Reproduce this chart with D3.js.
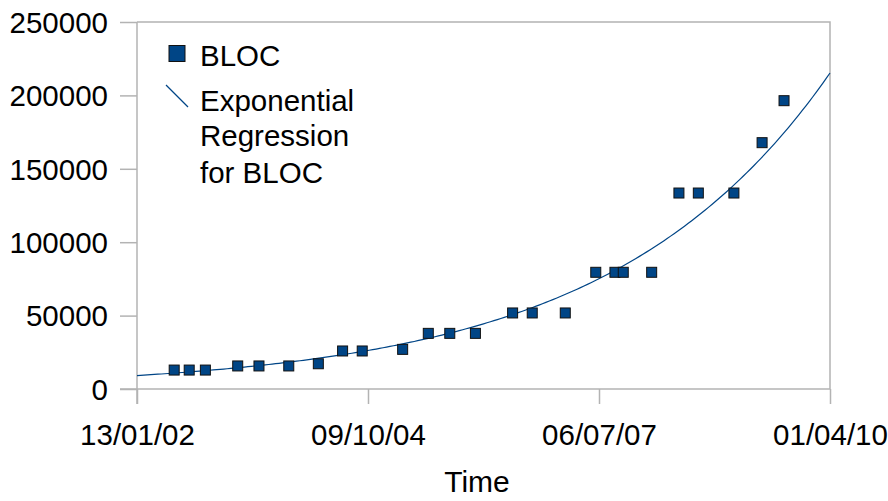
<!DOCTYPE html>
<html>
<head>
<meta charset="utf-8">
<script src="https://cdn.jsdelivr.net/npm/d3@7"></script>
<style>
  html, body { margin: 0; padding: 0; background: #fff; }
  svg { display: block; font-family: "Liberation Sans", Arial, sans-serif; }
</style>
</head>
<body>
<svg id="chart" width="888" height="501"></svg>
<script>
// BLOC measurements over time
const dates = [
  "2002-06-23", "2002-08-27", "2002-11-05", "2003-03-25", "2003-06-25",
  "2003-11-01", "2004-03-08", "2004-06-21", "2004-09-14", "2005-03-08",
  "2005-06-27", "2005-09-28", "2006-01-17", "2006-06-27", "2006-09-20",
  "2007-02-10", "2007-06-22", "2007-09-13", "2007-10-19", "2008-02-19",
  "2008-06-16", "2008-09-08", "2009-02-09", "2009-06-11", "2009-09-14"
];
const bloc = [
  12900, 12900, 12900, 15700, 15700,
  15700, 17200, 25900, 25900, 27000,
  37900, 37900, 37900, 51800, 51800,
  51800, 79500, 79500, 79500, 79500,
  133500, 133500, 133500, 167800, 196400
];
const yTicks = [0, 50000, 100000, 150000, 200000, 250000];
const xTicks = ["2002-01-13", "2004-10-09", "2007-07-06", "2010-04-01"];
const seriesName = "BLOC";
const fitName = ["Exponential", "Regression", "for BLOC"];
const axisTitle = "Time";

const parse = d3.utcParse("%Y-%m-%d");
const fmt = d3.utcFormat("%d/%m/%y");
const points = dates.map((d, i) => ({ t: parse(d), v: bloc[i] }));
const tickDates = xTicks.map(parse);

const blue = "#004586";
const grey = "#b3b3b3";
const fontSize = 29.5;
const fontFamily = "\"Liberation Sans\", Arial, sans-serif";

const plotLeft = 137, plotRight = 830, plotTop = 22, plotBottom = 389;

const svg = d3.select("#chart");

const x = d3.scaleUtc()
  .domain([tickDates[0], tickDates[tickDates.length - 1]])
  .range([plotLeft, plotRight]);
const y = d3.scaleLinear()
  .domain([0, 250000])
  .range([plotBottom, plotTop]);

// plot frame (top and right edges)
svg.append("path")
  .attr("d", `M${plotLeft},${plotTop}H${plotRight}V${plotBottom}`)
  .attr("fill", "none")
  .attr("stroke", grey)
  .attr("stroke-width", 1.5);

// y axis
const yAxis = svg.append("g")
  .attr("transform", `translate(${plotLeft},0)`)
  .call(d3.axisLeft(y).tickValues(yTicks).tickSize(17).tickSizeOuter(0)
    .tickFormat(d3.format("d")).tickPadding(12));
yAxis.select(".domain").remove();
yAxis.selectAll(".tick line").attr("stroke", grey).attr("stroke-width", 1.5);
yAxis.selectAll(".tick text")
  .attr("fill", "#000")
  .attr("font-size", fontSize)
  .attr("font-family", fontFamily)
  .attr("dy", "0.35em");
// vertical axis line extends below the x axis
svg.append("line")
  .attr("x1", plotLeft).attr("x2", plotLeft)
  .attr("y1", plotTop).attr("y2", plotBottom + 15)
  .attr("stroke", grey).attr("stroke-width", 1.5);

// x axis
const xAxis = svg.append("g")
  .attr("transform", `translate(0,${plotBottom})`)
  .call(d3.axisBottom(x).tickValues(tickDates).tickSize(15).tickSizeOuter(0)
    .tickFormat(fmt));
xAxis.select(".domain").remove();
xAxis.selectAll(".tick line").attr("stroke", grey).attr("stroke-width", 1.5);
xAxis.selectAll(".tick text")
  .attr("fill", "#000")
  .attr("font-size", fontSize)
  .attr("font-family", fontFamily)
  .attr("y", 56)
  .attr("dy", null);
svg.append("line")
  .attr("x1", plotLeft - 17).attr("x2", plotRight)
  .attr("y1", plotBottom).attr("y2", plotBottom)
  .attr("stroke", grey).attr("stroke-width", 1.5);

// axis title
svg.append("text")
  .attr("x", 477).attr("y", 492)
  .attr("text-anchor", "middle")
  .attr("font-size", 30)
  .attr("fill", "#000")
  .text(axisTitle);

// exponential regression: least squares on ln(value) against time
const t0 = x.domain()[0].getTime();
const ts = points.map(p => (p.t.getTime() - t0) / 864e5);
const ls = points.map(p => Math.log(p.v));
const tm = d3.mean(ts), lm = d3.mean(ls);
const slope = d3.sum(ts, (t, i) => (t - tm) * (ls[i] - lm)) / d3.sum(ts, t => (t - tm) * (t - tm));
const icpt = lm - slope * tm;
const span = (x.domain()[1].getTime() - t0) / 864e5;
const fit = d3.range(0, 201).map(k => {
  const d = span * k / 200;
  return { t: new Date(t0 + d * 864e5), v: Math.exp(icpt + slope * d) };
});

svg.append("path")
  .datum(fit)
  .attr("fill", "none")
  .attr("stroke", blue)
  .attr("stroke-width", 1.2)
  .attr("d", d3.line().x(d => x(d.t)).y(d => y(d.v)));

// data markers
svg.append("g")
  .selectAll("rect")
  .data(points)
  .join("rect")
  .attr("x", d => x(d.t) - 5)
  .attr("y", d => y(d.v) - 5)
  .attr("width", 10)
  .attr("height", 10)
  .attr("fill", blue)
  .attr("stroke", "#111")
  .attr("stroke-width", 1);

// legend
const legend = svg.append("g");
legend.append("rect")
  .attr("x", 169).attr("y", 45.5)
  .attr("width", 16).attr("height", 16)
  .attr("fill", blue).attr("stroke", "#111").attr("stroke-width", 1);
legend.append("text")
  .attr("x", 200).attr("y", 66)
  .attr("font-size", fontSize).attr("fill", "#000")
  .text(seriesName);
legend.append("line")
  .attr("x1", 166).attr("y1", 85)
  .attr("x2", 188).attr("y2", 107)
  .attr("stroke", blue).attr("stroke-width", 1.2);
const fitBase = [111, 146, 183];
legend.selectAll("text.fit")
  .data(fitName)
  .join("text")
  .attr("class", "fit")
  .attr("x", 200)
  .attr("y", (d, i) => fitBase[i])
  .attr("font-size", fontSize)
  .attr("fill", "#000")
  .text(d => d);
</script>
</body>
</html>
